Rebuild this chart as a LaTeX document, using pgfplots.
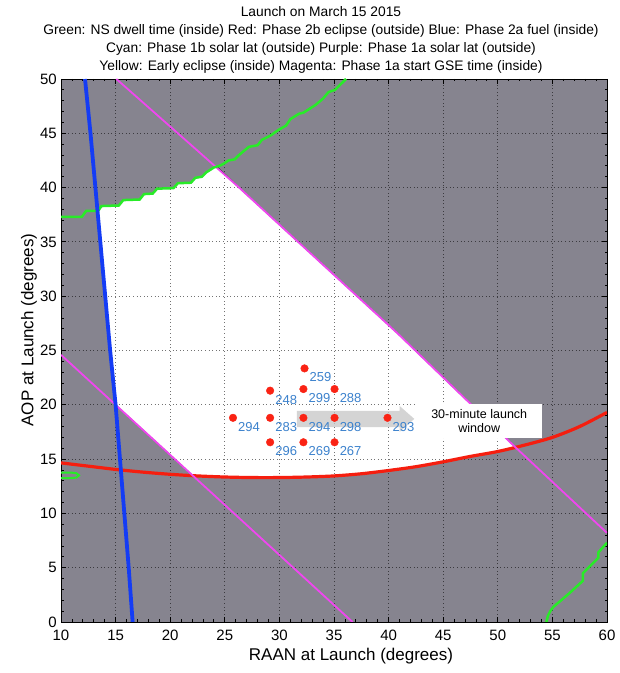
\documentclass[border=0pt]{standalone}
\usepackage{fontspec}
\setmainfont{Liberation Sans}
\usepackage{pgfplots}
\usepackage{pgfplotstable}
\pgfplotsset{compat=1.18}
\definecolor{bgGray}{RGB}{134,132,143}
\definecolor{mGreen}{RGB}{40,235,40}
\definecolor{mBlue}{RGB}{20,60,245}
\definecolor{mRed}{RGB}{245,30,15}
\definecolor{mMag}{RGB}{240,70,240}
\definecolor{lblBlue}{RGB}{60,130,205}
\definecolor{ptRed}{RGB}{250,35,20}

\pgfplotstableread{
x y label
32.3 23.35 259
29.15 21.3 248
32.2 21.45 299
35.05 21.45 288
25.75 18.8 294
29.15 18.8 283
32.2 18.8 294
35.05 18.8 298
39.9 18.8 293
29.15 16.55 296
32.2 16.55 269
35.05 16.55 267
}\points

\begin{document}
\begin{tikzpicture}
\begin{axis}[
  name=main, at={(0,0)}, anchor=south west,
  scale only axis, width=546pt, height=543pt,
  xmin=10, xmax=60, ymin=0, ymax=50,
  xtick={10,15,...,60}, ytick={0,5,...,50},
  minor x tick num=4, minor y tick num=4,
  tick align=inside, major tick length=5pt, minor tick length=2.5pt,
  grid=major,
  major grid style={black, opacity=0.55, line width=0.9pt, dash pattern=on 1pt off 2.6pt},
  set layers,
  axis line style={line width=0.9pt},
  every tick/.style={black, line width=0.8pt},
  /pgf/number format/assume math mode=true,
  tick label style={font=\fontsize{15}{15}\selectfont, inner sep=1pt},
  xticklabel style={yshift=-7pt},
  yticklabel style={xshift=-3pt},
]
% background
\addplot[on layer=axis background, fill=bgGray, draw=none] coordinates {(10,0) (60,0) (60,50) (10,50)} --cycle;
% feasible (white) region
\addplot[on layer=axis background, fill=white, draw=black, line width=0.8pt] coordinates {
(13.32,37.85) (13.4,37.85) (13.7,38.3) (15.3,38.35) (15.7,38.85) (17.2,38.9) (17.6,39.4) (18.4,39.45) (18.8,39.9) (20.3,39.95) (20.7,40.4) (21.9,40.45) (22.3,40.9) (22.9,41.0) (23.3,41.4) (24.0,41.85) (24.3,41.9)
(26.2,40.1) (40.9,26.5) (51.6,16.1)
(50,15.7) (47.5,15.25) (45,14.75) (42.5,14.3) (40,13.95) (37.5,13.65) (35,13.45) (32.5,13.35) (30,13.3) (27.5,13.3) (25,13.35) (22.1,13.45)
(15.05,19.95) (14.5,25) (14.05,30) (13.6,35)
} --cycle;
% red: Phase 2b eclipse
\addplot[mRed, line width=3.2pt, smooth] coordinates {
(10,14.65) (12.5,14.35) (15,14.05) (17.5,13.8) (20,13.6) (22.5,13.45) (25,13.35) (27.5,13.3) (30,13.3) (32.5,13.35) (35,13.45) (37.5,13.65) (40,13.95) (42.5,14.3) (45,14.75) (47.5,15.25) (50,15.7) (52.5,16.3) (55,17.0) (57.5,18.0) (60,19.3)};
% magenta lines
\addplot[mMag, line width=1.8pt] coordinates {(10,24.6) (36.7,0)};
\addplot[mMag, line width=1.8pt] coordinates {(15.07,50) (22.5,43.4) (26.2,40.1) (40.9,26.5) (51.6,16.1) (60,8.2)};
% green: NS dwell time
\addplot[mGreen, line width=2.5pt] coordinates {
(10,37.3) (11.9,37.3) (12.3,37.85) (13.4,37.85) (13.7,38.3) (15.3,38.35) (15.7,38.85) (17.2,38.9) (17.6,39.4) (18.4,39.45) (18.8,39.9) (20.3,39.95) (20.7,40.4) (21.9,40.45) (22.3,40.9) (22.9,41.0) (23.3,41.4) (24.0,41.85) (24.5,42.0) (24.9,42.2) (25.35,42.5) (25.9,42.6) (26.3,43.0) (27.2,43.75) (28.0,43.9) (28.4,44.4) (29.2,44.8) (29.9,45.3) (30.6,45.7) (31.0,46.3) (31.8,46.8) (32.2,46.9) (33.3,47.6) (34.0,48.2) (34.5,48.8) (35.1,49.0) (36.1,50)};
\addplot[mGreen, line width=2.5pt] coordinates {
(54.45,0) (54.6,0.6) (54.8,1.0) (55.1,1.4) (56.5,2.6) (57.8,3.8) (57.8,4.5) (59.2,5.9) (59.2,6.4) (60,7.3)};
\addplot[mGreen, line width=2pt] coordinates {
(10,13.75) (11.0,13.75) (11.4,13.7) (11.65,13.5) (11.4,13.3) (11.0,13.25) (10,13.25)};
% blue: Phase 2a fuel
\addplot[mBlue, line width=3.8pt] coordinates {
(12.2,50) (12.7,45) (13.15,40) (13.6,35) (14.05,30) (14.5,25) (15.0,20) (15.4,15) (15.8,10) (16.2,5) (16.56,0)};
% candidate launch points
\addplot[only marks, mark=*, mark size=3.8pt, color=ptRed, fill=ptRed] table[x=x, y=y] {\points};
% launch window arrow
\fill[gray!45, opacity=0.75] (axis cs:31.6,19.45) -- (axis cs:41.0,19.45) -- (axis cs:41.0,19.9) -- (axis cs:42.35,18.7) -- (axis cs:41.0,17.5) -- (axis cs:41.0,17.95) -- (axis cs:31.6,17.95) -- cycle;
% point labels
\addplot[draw=none, nodes near coords, point meta=explicit symbolic,
  every node near coord/.append style={anchor=west, xshift=5pt, yshift=-9pt, inner sep=0pt, text=lblBlue, font=\fontsize{13}{13}\selectfont}]
  table[x=x, y=y, meta=label] {\points};
% text box
\node[fill=white, minimum width=125pt, minimum height=34pt, align=center, inner sep=0pt,
  font=\fontsize{12.5}{14}\selectfont] at (axis cs:48.3,18.55) {30-minute launch\\window};
\end{axis}
% titles and labels
\node[anchor=south, align=center, inner sep=0pt, font=\fontsize{13.8}{18}\selectfont]
  at ([xshift=-13pt, yshift=5pt]main.north) {Launch on March 15 2015\\
  Green: NS dwell time (inside) Red: Phase 2b eclipse (outside) Blue: Phase 2a fuel (inside)\\
  Cyan: Phase 1b solar lat (outside) Purple: Phase 1a solar lat (outside)\\
  Yellow: Early eclipse (inside) Magenta: Phase 1a start GSE time (inside)};
\node[font=\fontsize{17}{17}\selectfont, inner sep=0pt] at ([xshift=290pt, yshift=-34pt]main.south west) {RAAN at Launch (degrees)};
\node[font=\fontsize{17}{17}\selectfont, inner sep=0pt, rotate=90] at ([xshift=-32pt, yshift=292pt]main.south west) {AOP at Launch (degrees)};
\pgfresetboundingbox
\path[use as bounding box] ([xshift=-61pt, yshift=-51pt]main.south west) rectangle ([xshift=12pt, yshift=79pt]main.north east);
\end{tikzpicture}
\end{document}
